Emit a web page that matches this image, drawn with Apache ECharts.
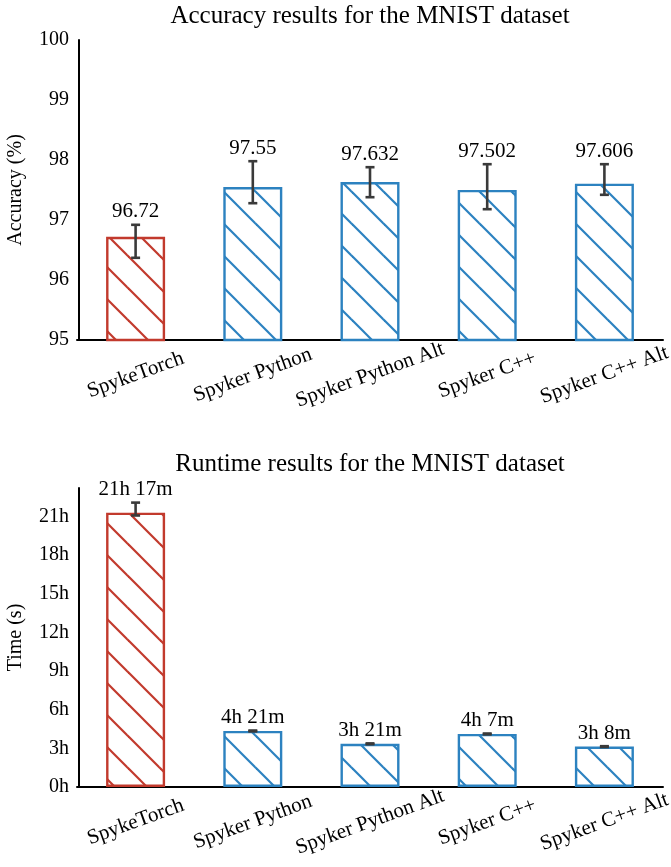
<!DOCTYPE html>
<html>
<head>
<meta charset="utf-8">
<script src="https://cdn.jsdelivr.net/npm/echarts@6/dist/echarts.min.js"></script>
<style>
html,body{margin:0;padding:0;background:#fff;}
#chart{width:671px;height:867px;}
</style>
</head>
<body>
<div id="chart"></div>
<script>
// ---- data ----
const categories = ['SpykeTorch', 'Spyker Python', 'Spyker Python Alt', 'Spyker C++', 'Spyker C++ Alt'];
const accuracy = [96.72, 97.55, 97.632, 97.502, 97.606];
const accuracyLow = [96.37, 97.28, 97.38, 97.18, 97.42];
const accuracyHigh = [96.92, 97.98, 97.88, 97.93, 97.93];
// runtime in minutes
const runtime = [1277, 261, 201, 247, 188];
const runtimeLow = [1264, 259, 199, 245, 186];
const runtimeHigh = [1324, 263, 203, 249, 190];
const accuracyTicks = [95, 96, 97, 98, 99, 100];
const runtimeTicksHours = [0, 3, 6, 9, 12, 15, 18, 21];

// ---- styling ----
const FONT = "'Liberation Serif', 'Times New Roman', serif";
const RED = '#c23a2d';
const BLUE = '#2c82c0';
const ERR = '#3a3a3a';

function hatch(color) {
  const c = document.createElement('canvas');
  const s = 32;
  c.width = s; c.height = s;
  const ctx = c.getContext('2d');
  ctx.strokeStyle = color;
  ctx.lineWidth = 2.2;
  for (let k = -1; k <= 1; k++) {
    ctx.beginPath();
    ctx.moveTo(-8, -8 + k * s);
    ctx.lineTo(s + 8, s + 8 + k * s);
    ctx.stroke();
  }
  return { image: c, repeat: 'repeat' };
}
const redPat = hatch(RED);
const bluePat = hatch(BLUE);

function barData(vals) {
  return vals.map((v, i) => ({
    value: v,
    itemStyle: {
      color: i === 0 ? redPat : bluePat,
      borderColor: i === 0 ? RED : BLUE,
      borderWidth: 2.4
    }
  }));
}

function fmtTime(m) {
  return Math.floor(m / 60) + 'h ' + (m % 60) + 'm';
}

function errSeries(xIdx, yIdx, lows, highs, labels) {
  return {
    type: 'custom',
    xAxisIndex: xIdx,
    yAxisIndex: yIdx,
    data: lows.map((l, i) => [i, l, highs[i]]),
    z: 10,
    renderItem: function (params, api) {
      const i = api.value(0);
      const lo = api.coord([i, api.value(1)]);
      const hi = api.coord([i, api.value(2)]);
      const hw = 4.5;
      const st = { stroke: ERR, lineWidth: 2.6 };
      return {
        type: 'group',
        children: [
          { type: 'line', shape: { x1: lo[0], y1: lo[1], x2: hi[0], y2: hi[1] }, style: st },
          { type: 'line', shape: { x1: lo[0] - hw, y1: lo[1], x2: lo[0] + hw, y2: lo[1] }, style: st },
          { type: 'line', shape: { x1: hi[0] - hw, y1: hi[1], x2: hi[0] + hw, y2: hi[1] }, style: st },
          { type: 'text', style: { text: labels[i], x: hi[0], y: hi[1] - 13, align: 'center', verticalAlign: 'middle', font: '21px ' + FONT, fill: '#000' } }
        ]
      };
    }
  };
}

const axisLabelX = {
  rotate: 20,
  align: 'center',
  verticalAlign: 'middle',
  margin: 35,
  fontFamily: FONT,
  fontSize: 21,
  color: '#000',
  interval: 0
};

const chart = echarts.init(document.getElementById('chart'));
chart.setOption({
  animation: false,
  backgroundColor: '#fff',
  title: [
    { text: 'Accuracy results for the MNIST dataset', left: 370, top: 4, padding: 0, textAlign: 'center',
      textStyle: { fontFamily: FONT, fontSize: 25, fontWeight: 'normal', color: '#000' } },
    { text: 'Runtime results for the MNIST dataset', left: 370, top: 452, padding: 0, textAlign: 'center',
      textStyle: { fontFamily: FONT, fontSize: 25, fontWeight: 'normal', color: '#000' } }
  ],
  grid: [
    { left: 77, right: 8, top: 40, height: 300, outerBoundsMode: 'none', containLabel: false },
    { left: 77, right: 8, top: 488, height: 299, outerBoundsMode: 'none', containLabel: false }
  ],
  xAxis: [
    { type: 'category', gridIndex: 0, data: categories, axisTick: { show: false },
      axisLine: { lineStyle: { color: '#000', width: 2 } }, axisLabel: axisLabelX },
    { type: 'category', gridIndex: 1, data: categories, axisTick: { show: false },
      axisLine: { lineStyle: { color: '#000', width: 2 } }, axisLabel: axisLabelX }
  ],
  yAxis: [
    { type: 'value', gridIndex: 0, offset: -2, min: accuracyTicks[0], max: accuracyTicks[accuracyTicks.length - 1], interval: 1,
      name: 'Accuracy (%)', nameLocation: 'middle', nameGap: 53,
      nameTextStyle: { fontFamily: FONT, fontSize: 20, color: '#000' },
      axisLine: { show: true, lineStyle: { color: '#000', width: 2 } }, axisTick: { show: false },
      splitLine: { show: false },
      axisLabel: { fontFamily: FONT, fontSize: 20, color: '#000', margin: 10 } },
    { type: 'value', gridIndex: 1, offset: -2, min: runtimeTicksHours[0] * 60, max: 1392, interval: 180,
      name: 'Time (s)', nameLocation: 'middle', nameGap: 53,
      nameTextStyle: { fontFamily: FONT, fontSize: 20, color: '#000' },
      axisLine: { show: true, lineStyle: { color: '#000', width: 2 } }, axisTick: { show: false },
      splitLine: { show: false },
      axisLabel: { fontFamily: FONT, fontSize: 20, color: '#000', margin: 10, showMaxLabel: false,
        formatter: v => (v / 60) + 'h' } }
  ],
  series: [
    { type: 'bar', xAxisIndex: 0, yAxisIndex: 0, barWidth: 59, data: barData(accuracy) },
    errSeries(0, 0, accuracyLow, accuracyHigh, accuracy.map(String)),
    { type: 'bar', xAxisIndex: 1, yAxisIndex: 1, barWidth: 59, data: barData(runtime) },
    errSeries(1, 1, runtimeLow, runtimeHigh, runtime.map(fmtTime))
  ]
});
</script>
</body>
</html>
